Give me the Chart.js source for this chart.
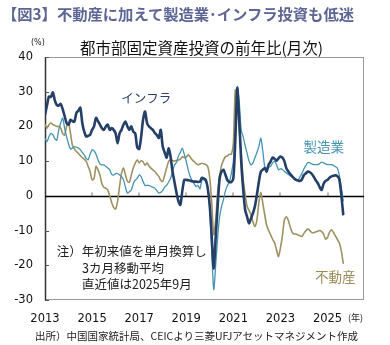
<!DOCTYPE html>
<html lang="ja">
<head>
  <meta charset="UTF-8">
  <title>都市部固定資産投資の前年比</title>
  <style>
    body {
      margin: 0;
      width: 390px;
      height: 345px;
      background: #fff;
      font-family: "Noto Sans CJK JP", sans-serif;
      position: relative;
      overflow: hidden;
    }
    #wrap {
      position: absolute;
      left: 0;
      top: 0;
      width: 390px;
      height: 345px;
    }
    .txt {
      position: absolute;
      white-space: nowrap;
      line-height: 1;
    }
    #heading {
      left: 2px;
      top: 6px;
      font-size: 15.3px;
      font-weight: bold;
      color: #5d6594;
    }
    #chartTitle {
      left: 80px;
      top: 40px;
      font-size: 15.5px;
      color: #111;
    }
    #unit {
      left: 31px;
      top: 39px;
      font-size: 8px;
      color: #222;
      font-family: "DejaVu Sans", sans-serif;
    }
    #source {
      left: 35px;
      top: 331px;
      font-size: 10.5px;
      color: #222;
    }
  </style>
</head>
<body>
  <div id="wrap"><canvas id="chart" width="390" height="345"></canvas></div>
  <div class="txt" id="heading">【図3】不動産に加えて製造業･インフラ投資も低迷</div>
  <div class="txt" id="chartTitle">都市部固定資産投資の前年比(月次)</div>
  <div class="txt" id="unit">(%)</div>
  <div class="txt" id="source">出所）中国国家統計局、CEICより三菱UFJアセットマネジメント作成</div>

  <script src="https://cdn.jsdelivr.net/npm/chart.js"></script>
  <script>
    // monthly values, Jan 2013 .. Sep 2025 (%)
    const startYear = 2013;
    const tickYears = [2013, 2015, 2017, 2019, 2021, 2023, 2025];
    const yTicks = [-30, -20, -10, 0, 10, 20, 30, 40];

    const infra = [
      23.3, 26, 28.6, 28.5, 29.8, 27.5, 26.2, 26, 26.5, 25, 23, 21,
      20.5, 21.9, 21.5, 21.4, 23.9, 24.5, 25.4, 21, 18.5, 17.1, 17.3, 17.6,
      19, 20, 22.5, 21.5, 20.5, 19.5, 19, 20, 20.5, 19, 19.5, 19,
      18, 15.2, 18, 19, 20.5, 21.4, 20, 19, 20, 18.5, 18, 14,
      13.5, 17, 22, 24.3, 21, 20, 19.5, 19, 18.1, 17.5, 16.7, 19,
      14.2, 12.5, 11, 13.7, 11.3, 7, 4, 1, -1.5, -2.6, 1.5, 4.6,
      4.6, 4.5, 4.4, 4.2, 4.1, 4.1, 4, 4.1, 5.2, 5, 4.6, 2,
      -3, -12, -21, -12, -3, 5, 7, 7.5, 6, 4.5, 4, 4,
      5, 16, 31, 22, 10, 2, -4, -6, -7.9, -6.5, -5, -3,
      0.3, 4, 7, 7.5, 8, 7, 9, 9.9, 11, 10.7, 10.1, 10.8,
      11.3, 11, 10, 8, 7, 6.3, 5.6, 5, 4.6, 4.4, 4.3, 4.8,
      6, 6.5, 7, 6.8, 6.3, 5.5, 4.5, 3.7, 2.5, 1.7, 3.5, 4.3,
      4.6, 5.2, 5.6, 5.8, 5.9, 5.7, 4.8, 0.5, -5.3
    ];

    const manufacturing = [
      16.5, 15.6, 17, 18, 17.6, 16.5, 16, 19, 21, 22.4, 19.5, 17,
      15, 13.5, 13.8, 14.2, 14, 13.8, 13.3, 12.5, 11.8, 10.8, 10.4, 12,
      13.3, 13, 12, 10.4, 9.2, 8.9, 8.9, 8.5, 8, 7.5, 6.2, 6,
      6.4, 6.4, 6, 5.5, 4.6, 2.5, 0.8, 1.2, 1.7, 3.5, 4.5, 5.1,
      6, 5.5, 4.1, 3, 3, 3, 2.7, 2.5, 2.2, 1.5, 0.8, 1,
      1.5, 2.5, 3, 4, 5, 7, 8.9, 9.6, 11.5, 12.5, 13.7, 12,
      9.9, 7.5, 5.6, 4.5, 3.5, 2.7, 3, 2, 4.6, 4.6, 4, 2.5,
      -4, -16, -27, -20, -12, -6, -3, -1, 1.5, 3, 4.1, 6.5,
      10, 20, 31.5, 27, 19, 17, 14.5, 12.3, 10, 8.9, 9.5, 11,
      12.5, 14.2, 16.6, 13, 8.5, 8, 8.3, 8.5, 9.5, 9.9, 9, 7.5,
      7.8, 7.6, 7, 6.6, 6.2, 5.8, 5.6, 5.2, 4.8, 4.6, 5.5, 6.5,
      7.8, 8.8, 9.6, 9.5, 9.2, 9, 9, 9, 9.3, 9.7, 9.5, 9.2,
      9, 9, 9, 8.8, 8.4, 8, 6, 2.5, -1.4
    ];

    const realEstate = [
      20.5, 19.5, 20.5, 21, 20.5, 20.3, 20, 20, 19.5, 18, 17.5, 20,
      21, 18, 14.5, 13.5, 12.8, 12.2, 11.6, 11, 10.6, 9.9, 8.5, 7,
      4.6, 5, 8.5, 7.5, 6, 3.5, 2.5, 2.2, 1.7, 0, -2, -3.4,
      -3.8, -1.5, 2.7, 6.5, 8, 6, 4.2, 3.9, 6, 8, 9.4, 10.4,
      9.5, 10.1, 9.8, 8.8, 9.5, 8.6, 8, 7.5, 7, 6.3, 5.6, 4.5,
      4.1, 6, 8, 9.9, 10.4, 10.2, 10, 10.2, 10.3, 10.6, 11.3, 11,
      11.2, 11.8, 11.2, 10.4, 9.9, 9.3, 9, 9.2, 9.4, 9.2, 9, 8.4,
      5, -2, -11.2, -7, 1, 5.5, 8.8, 10.3, 11.3, 11.5, 12, 12,
      15, 30.5, 26, 19, 12.5, 5, 0.5, -3, -4.2, -5.5, -7.5, -8.8,
      -7, -2, 1, -2, -5.5, -8.5, -10, -11.2, -12.5, -13.5, -15.5, -17.5,
      -15, -11.5, -7, -6, -7, -9, -10.5, -11, -11, -11.3, -11.5, -11.7,
      -10.8, -10, -9.5, -10, -10.6, -10.6, -10.4, -10.2, -10, -10.3, -11, -12.5,
      -12, -10.5, -9.8, -10.5, -11.5, -12.5, -13.5, -15.8, -19.4
    ];

    const seriesNames = ['インフラ', '製造業', '不動産'];
    const seriesColors = ['#243f68', '#4593b2', '#9f9162'];
    const noteLines = ['注）年初来値を単月換算し', '3カ月移動平均', '直近値は2025年9月'];

    function toPoints(values) {
      return values.map((v, i) => ({ x: startYear + i / 12, y: v }));
    }

    const framePlugin = {
      id: 'frame',
      beforeDatasetsDraw(chart) {
        const { ctx, chartArea: a, scales } = chart;
        const xs = scales.x, ys = scales.y;
        ctx.save();
        // outer box
        ctx.strokeStyle = '#9a9a9a';
        ctx.lineWidth = 1;
        ctx.strokeRect(a.left + 0.5, a.top + 0.5, a.right - a.left - 1, a.bottom - a.top - 1);
        // left axis
        ctx.strokeStyle = '#333';
        ctx.lineWidth = 1.5;
        ctx.beginPath();
        ctx.moveTo(a.left + 0.5, a.top);
        ctx.lineTo(a.left + 0.5, a.bottom);
        ctx.stroke();
        // y tick marks (inside)
        ctx.lineWidth = 1;
        ctx.strokeStyle = '#555';
        yTicks.forEach(v => {
          const y = Math.round(ys.getPixelForValue(v)) + 0.5;
          ctx.beginPath();
          ctx.moveTo(a.left, y);
          ctx.lineTo(a.left + 4, y);
          ctx.stroke();
        });
        // zero line + x tick marks
        const y0 = Math.round(ys.getPixelForValue(0)) + 0.5;
        ctx.strokeStyle = '#a0a0a0';
        ctx.lineWidth = 1.5;
        tickYears.slice(1).forEach(t => {
          const x = Math.round(xs.getPixelForValue(t));
          ctx.beginPath();
          ctx.moveTo(x, y0);
          ctx.lineTo(x, y0 - 4);
          ctx.stroke();
        });
        ctx.strokeStyle = '#000';
        ctx.lineWidth = 1.3;
        ctx.beginPath();
        ctx.moveTo(a.left, y0);
        ctx.lineTo(a.right, y0);
        ctx.stroke();
        ctx.restore();
      },
      afterDraw(chart) {
        const { ctx, chartArea: a, scales } = chart;
        const xs = scales.x, ys = scales.y;
        ctx.save();
        ctx.textBaseline = 'middle';
        // series labels
        ctx.textAlign = 'center';
        ctx.font = '12.5px "Noto Sans CJK JP"';
        ctx.fillStyle = seriesColors[0];
        ctx.fillText(seriesNames[0], xs.getPixelForValue(2017.3), ys.getPixelForValue(28.2));
        ctx.font = '13.5px "Noto Sans CJK JP"';
        ctx.fillStyle = seriesColors[1];
        ctx.fillText(seriesNames[1], xs.getPixelForValue(2024.84), ys.getPixelForValue(14.1));
        ctx.fillStyle = '#998a55';
        ctx.fillText(seriesNames[2], xs.getPixelForValue(2025.33), ys.getPixelForValue(-23.3));
        // note
        ctx.textAlign = 'left';
        ctx.font = '12.5px "Noto Sans CJK JP"';
        ctx.fillStyle = '#222';
        ctx.fillText(noteLines[0], xs.getPixelForValue(2013.5), ys.getPixelForValue(-16.1));
        ctx.fillText(noteLines[1], xs.getPixelForValue(2014.57), ys.getPixelForValue(-20.8));
        ctx.fillText(noteLines[2], xs.getPixelForValue(2014.57), ys.getPixelForValue(-25.6));
        // year unit
        ctx.font = '9px "Noto Sans CJK JP"';
        ctx.fillStyle = '#222';
        ctx.textAlign = 'right';
        ctx.fillText('(年)', a.right - 1, 318);
        ctx.restore();
      }
    };

    new Chart(document.getElementById('chart'), {
      type: 'line',
      data: {
        datasets: [
          { label: seriesNames[0], data: toPoints(infra), borderColor: seriesColors[0], borderWidth: 2.6 },
          { label: seriesNames[1], data: toPoints(manufacturing), borderColor: seriesColors[1], borderWidth: 1.3 },
          { label: seriesNames[2], data: toPoints(realEstate), borderColor: seriesColors[2], borderWidth: 1.6 }
        ]
      },
      options: {
        responsive: false,
        animation: false,
        parsing: false,
        layout: { padding: { top: 57, right: 26, left: 0, bottom: 0 } },
        elements: {
          point: { radius: 0 },
          line: { tension: 0.25, fill: false, borderJoinStyle: 'round', borderCapStyle: 'round' }
        },
        plugins: {
          legend: { display: false },
          tooltip: { enabled: false }
        },
        scales: {
          x: {
            type: 'linear',
            min: 2013,
            max: 2026.55,
            grid: { display: false, drawTicks: false },
            border: { display: false },
            afterBuildTicks: s => { s.ticks = tickYears.map(v => ({ value: v })); },
            afterFit: s => { s.height = 45; },
            ticks: {
              autoSkip: false,
              maxRotation: 0,
              padding: 12,
              color: '#111',
              font: { family: '"DejaVu Sans"', size: 11.5 },
              callback: v => String(v)
            }
          },
          y: {
            min: -30,
            max: 40,
            grid: { display: false, drawTicks: false },
            border: { display: false },
            afterBuildTicks: s => { s.ticks = yTicks.map(v => ({ value: v })); },
            afterFit: s => { s.width = 45; },
            ticks: {
              padding: 12,
              color: '#111',
              font: { family: '"DejaVu Sans"', size: 11.5 },
              callback: v => String(v)
            }
          }
        }
      },
      plugins: [framePlugin]
    });
  </script>
</body>
</html>
